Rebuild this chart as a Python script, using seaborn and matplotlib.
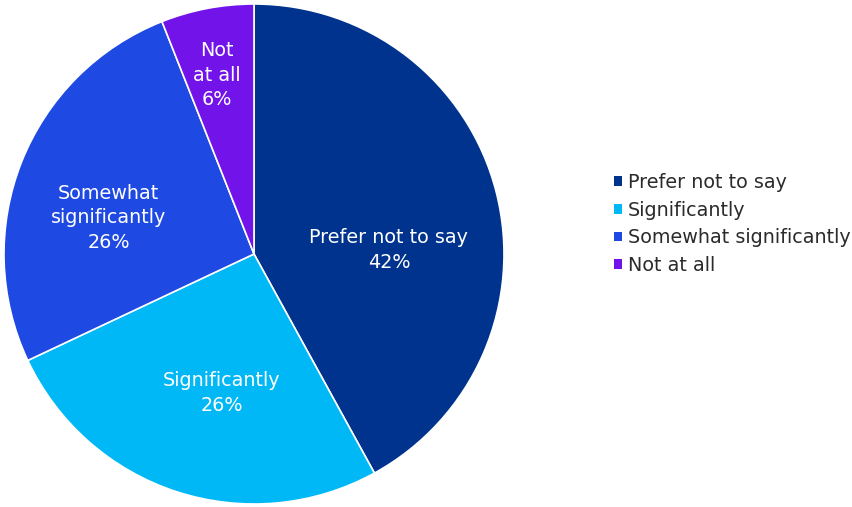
import matplotlib
matplotlib.use("Agg")
import matplotlib.pyplot as plt
from matplotlib.patches import Patch
import numpy as np
import seaborn as sns

# Survey response shares
categories = ["Prefer not to say", "Significantly", "Somewhat significantly", "Not at all"]
wedge_labels = ["Prefer not to say", "Significantly", "Somewhat\nsignificantly", "Not\nat all"]
shares = [42, 26, 26, 6]
colors = ["#00338D", "#00B8F5", "#1E49E2", "#7213EA"]

sns.set_theme(style="white")
plt.rcParams["font.family"] = ["DejaVu Sans"]
palette = sns.color_palette(colors)

W, H = 852, 507
fig = plt.figure(figsize=(W / 100, H / 100), dpi=100)
ax = fig.add_axes([0, 0, 1, 1])

cx, cy, radius = 254, H - 254, 250
wedges, _ = ax.pie(
    shares,
    colors=palette,
    startangle=90,
    counterclock=False,
    center=(cx, cy),
    radius=radius,
    wedgeprops=dict(edgecolor="white", linewidth=1.2),
    frame=True,
)
ax.set_xlim(0, W)
ax.set_ylim(0, H)
ax.set_aspect("equal")
ax.axis("off")

# label placement: (angle in degrees, fraction of radius) per wedge
label_pos = [(1.7, 0.54), (257, 0.57), (166, 0.60), (101.7, 0.73)]
for name, val, (ang, frac) in zip(wedge_labels, shares, label_pos):
    t = np.deg2rad(ang)
    x = cx + frac * radius * np.cos(t)
    y = cy + frac * radius * np.sin(t)
    ax.text(x, y, f"{name}\n{val}%", ha="center", va="center",
            color="white", fontsize=13.8, linespacing=1.38)

handles = [Patch(facecolor=c, edgecolor="none") for c in palette]
fig.legend(
    handles, categories,
    loc="center left",
    bbox_to_anchor=(614 / W, 1 - 224 / H),
    frameon=False,
    fontsize=13.8,
    handlelength=0.42,
    handleheight=0.42,
    handletextpad=0.3,
    labelspacing=0.45,
    borderpad=0,
    borderaxespad=0,
    labelcolor="#2b2b2b",
)

fig.savefig("out.png", dpi=100)
